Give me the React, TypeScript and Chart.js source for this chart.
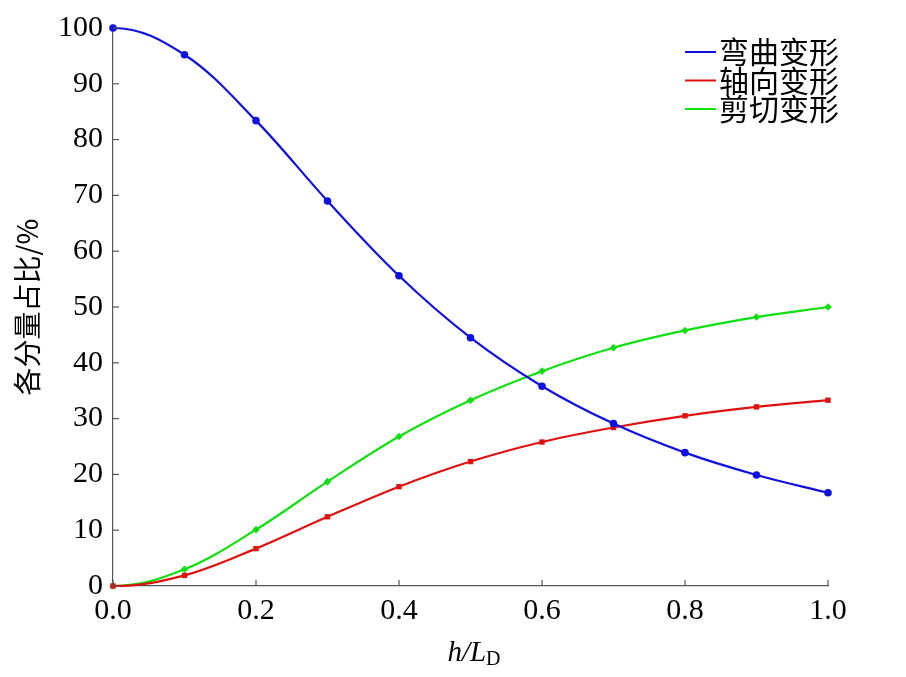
import { useEffect, useRef } from 'react';
import { Chart, registerables } from 'chart.js';

Chart.register(...registerables);

const ratios = [0, 0.1, 0.2, 0.3, 0.4, 0.5, 0.6, 0.7, 0.8, 0.9, 1.0];
const bending = [100, 95.2, 83.4, 69.0, 55.6, 44.5, 35.8, 29.1, 23.9, 19.9, 16.7];
const axial = [0, 1.9, 6.7, 12.4, 17.8, 22.3, 25.8, 28.4, 30.5, 32.1, 33.3];
const shear = [0, 3.0, 10.1, 18.7, 26.8, 33.3, 38.5, 42.7, 45.8, 48.2, 50.0];
const seriesNames = ['弯曲变形', '轴向变形', '剪切变形'];
const seriesColors = ['#1010e0', '#e01010', '#10e010'];
const pointStyles = ['circle', 'rect', 'rectRot'];

const serif = '"Liberation Serif", "Times New Roman", serif';
const cjk = '"Noto Sans CJK SC", sans-serif';

// curves leave h/L_D = 0 with a flat tangent, like the original
const flatStartPlugin = {
    id: 'flatStart',
    beforeDatasetDraw(chart: any, args: any) {
        const line = args.meta.dataset;
        if (!line) return;
        line.updateControlPoints(chart.chartArea);
        const pts = line.points;
        if (pts && pts.length > 1) {
            pts[0].cp2y = pts[0].y;
            pts[0].cp2x = pts[0].x + (pts[1].x - pts[0].x) * 0.4;
        }
    }
};

// inward tick marks, axis titles and the legend
const decorPlugin = {
    id: 'decor',
    afterDraw(chart: any) {
        const { ctx, chartArea, scales } = chart;
        const x = scales.x;
        const y = scales.y;
        ctx.save();
        ctx.strokeStyle = '#555';
        ctx.lineWidth = 1.2;
        x.ticks.forEach((t: any) => {
            const px = x.getPixelForValue(t.value);
            ctx.beginPath();
            ctx.moveTo(px, chartArea.bottom);
            ctx.lineTo(px, chartArea.bottom - 6);
            ctx.stroke();
        });
        y.ticks.forEach((t: any) => {
            const py = y.getPixelForValue(t.value);
            ctx.beginPath();
            ctx.moveTo(chartArea.left, py);
            ctx.lineTo(chartArea.left + 6, py);
            ctx.stroke();
        });

        // y title
        ctx.fillStyle = '#000';
        ctx.save();
        ctx.translate(27, 307);
        ctx.rotate(-Math.PI / 2);
        ctx.textAlign = 'center';
        ctx.textBaseline = 'middle';
        ctx.font = `28px ${cjk}`;
        ctx.fillText('各分量占比/%', 0, 0);
        ctx.restore();

        // x title h/L_D
        ctx.textBaseline = 'alphabetic';
        ctx.textAlign = 'left';
        const base = 661;
        ctx.font = `italic 29px ${serif}`;
        const main = 'h/L';
        const wMain = ctx.measureText(main).width;
        ctx.font = `20px ${serif}`;
        const wSub = ctx.measureText('D').width;
        let sx = 474 - (wMain + wSub) / 2;
        ctx.font = `italic 29px ${serif}`;
        ctx.fillText(main, sx, base);
        sx += wMain;
        ctx.font = `20px ${serif}`;
        ctx.fillText('D', sx, base + 4);

        // legend
        ctx.font = `30px ${cjk}`;
        ctx.textBaseline = 'middle';
        seriesNames.forEach((name, i) => {
            const ly = 52 + i * 28.5;
            ctx.strokeStyle = seriesColors[i];
            ctx.lineWidth = 2;
            ctx.beginPath();
            ctx.moveTo(685, ly);
            ctx.lineTo(716, ly);
            ctx.stroke();
            ctx.fillStyle = '#000';
            ctx.fillText(name, 719, ly);
        });
        ctx.restore();
    }
};

export default function App() {
    const chartRef = useRef<HTMLCanvasElement>(null);
    const chartInstance = useRef<Chart | null>(null);

    useEffect(() => {
        if (!chartRef.current) return;
        const ctx = chartRef.current.getContext('2d');
        if (!ctx) return;
        if (chartInstance.current) chartInstance.current.destroy();

        const series = [bending, axial, shear];
        chartInstance.current = new Chart(ctx, {
            type: 'line',
            data: {
                datasets: series.map((vals, i) => ({
                    label: seriesNames[i],
                    data: ratios.map((r, j) => ({ x: r, y: vals[j] })),
                    borderColor: seriesColors[i],
                    backgroundColor: seriesColors[i],
                    borderWidth: 2.2,
                    pointStyle: pointStyles[i] as any,
                    pointRadius: i === 0 ? 3.8 : 3.8,
                    pointBorderWidth: 0,
                    tension: 0.35,
                    clip: false as any
                }))
            },
            options: {
                animation: false,
                responsive: true,
                maintainAspectRatio: false,
                layout: { padding: { left: 0, right: 78, top: 27, bottom: 0 } },
                plugins: {
                    legend: { display: false },
                    tooltip: { enabled: false }
                },
                scales: {
                    x: {
                        type: 'linear',
                        min: 0,
                        max: 1,
                        afterFit: (s: any) => { s.height = 91; },
                        grid: { display: false, drawTicks: false },
                        border: { display: true, color: '#555', width: 1.2 },
                        ticks: {
                            stepSize: 0.2,
                            padding: 7,
                            color: '#000',
                            font: { family: serif, size: 30 },
                            callback: (v: any) => Number(v).toFixed(1)
                        }
                    },
                    y: {
                        min: 0,
                        max: 100,
                        afterFit: (s: any) => { s.width = 113; },
                        grid: { display: false, drawTicks: false },
                        border: { display: true, color: '#555', width: 1.2 },
                        ticks: {
                            stepSize: 10,
                            padding: 10,
                            color: '#000',
                            font: { family: serif, size: 30 }
                        }
                    }
                }
            },
            plugins: [flatStartPlugin, decorPlugin]
        });

        return () => {
            if (chartInstance.current) {
                chartInstance.current.destroy();
                chartInstance.current = null;
            }
        };
    }, []);

    return (
        <div style={{ position: 'fixed', left: 0, top: 0, width: 906, height: 677, background: '#fff' }}>
            <canvas ref={chartRef}></canvas>
        </div>
    );
}
